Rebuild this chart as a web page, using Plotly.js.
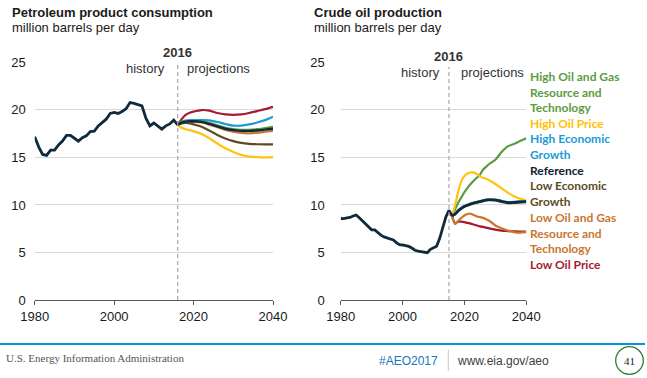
<!DOCTYPE html>
<html>
<head>
<meta charset="utf-8">
<script src="https://cdn.plot.ly/plotly-3.0.1.min.js"></script>
<style>
html,body{margin:0;padding:0;background:#fff;}
#chart{width:647px;height:378px;}
</style>
</head>
<body>
<div id="chart"></div>
<script>
// ---------- DATA ----------
const histYears = [];
for (let y = 1980; y <= 2016; y++) histYears.push(y);

// Petroleum product consumption (million barrels per day), history 1980-2016
const consHistory = [17.15, 16.1, 15.3, 15.2, 15.75, 15.75, 16.3, 16.7, 17.3, 17.3,
  17.0, 16.7, 17.05, 17.25, 17.7, 17.75, 18.3, 18.65, 19.0, 19.6,
  19.7, 19.6, 19.8, 20.1, 20.75, 20.65, 20.5, 20.4, 19.1, 18.3,
  18.6, 18.3, 17.95, 18.3, 18.5, 18.9, 18.4];

const consProjYears = [2016, 2017, 2018, 2019, 2020, 2022, 2024, 2026, 2028, 2030, 2032, 2034, 2036, 2038, 2040];
const consLowOilPrice   = [18.4, 19.0, 19.45, 19.68, 19.8, 19.96, 19.9, 19.65, 19.5, 19.45, 19.5, 19.65, 19.85, 20.05, 20.3];
const consHighEcon      = [18.4, 18.75, 18.85, 18.9, 18.9, 18.9, 18.88, 18.7, 18.5, 18.33, 18.33, 18.45, 18.65, 18.9, 19.25];
const consHighOilGas    = [18.4, 18.7, 18.78, 18.8, 18.8, 18.78, 18.6, 18.35, 18.1, 17.95, 17.88, 17.88, 17.95, 18.07, 18.2];
const consLowOilGas     = [18.4, 18.6, 18.7, 18.72, 18.72, 18.65, 18.42, 18.15, 17.88, 17.68, 17.55, 17.52, 17.58, 17.68, 17.78];
const consReference     = [18.4, 18.65, 18.75, 18.78, 18.78, 18.72, 18.5, 18.25, 18.0, 17.85, 17.77, 17.77, 17.82, 17.9, 18.0];
const consLowEcon       = [18.4, 18.55, 18.6, 18.55, 18.45, 18.2, 17.8, 17.35, 16.98, 16.7, 16.52, 16.42, 16.37, 16.35, 16.35];
const consHighOilPrice  = [18.4, 18.1, 17.95, 17.85, 17.75, 17.45, 17.0, 16.45, 15.95, 15.56, 15.25, 15.08, 15.02, 15.0, 15.02];

// Crude oil production (million barrels per day), history 1980-2016
const prodHistory = [8.58, 8.57, 8.65, 8.69, 8.85, 8.95, 8.65, 8.32, 8.1, 7.7,
  7.4, 7.38, 7.1, 6.83, 6.65, 6.55, 6.45, 6.33, 6.05, 5.83,
  5.8, 5.75, 5.65, 5.48, 5.25, 5.15, 5.08, 5.05, 5.0, 5.35,
  5.48, 5.68, 6.5, 7.5, 8.75, 9.43, 8.85];

const prodProjYears = [2016, 2017, 2018, 2019, 2020, 2021, 2022, 2023, 2024, 2025, 2026, 2027, 2028, 2030, 2032, 2034, 2036, 2038, 2040];
const prodHighOilGas   = [8.85, 9.55, 10.25, 10.8, 11.35, 11.8, 12.2, 12.55, 12.85, 13.15, 13.7, 14.0, 14.3, 14.75, 15.55, 16.15, 16.4, 16.7, 17.0];
const prodHighOilPrice = [8.85, 10.0, 11.4, 12.5, 13.05, 13.3, 13.42, 13.4, 13.25, 13.0, 12.85, 12.75, 12.6, 12.2, 11.75, 11.3, 10.92, 10.65, 10.5];
const prodHighEcon     = [8.85, 9.08, 9.43, 9.68, 9.88, 10.02, 10.14, 10.24, 10.32, 10.4, 10.48, 10.55, 10.58, 10.55, 10.42, 10.3, 10.32, 10.38, 10.4];
const prodReference    = [8.85, 9.05, 9.4, 9.65, 9.85, 9.98, 10.1, 10.2, 10.28, 10.36, 10.45, 10.52, 10.55, 10.52, 10.38, 10.25, 10.27, 10.33, 10.36];
const prodLowEcon      = [8.85, 9.02, 9.37, 9.62, 9.82, 9.95, 10.07, 10.17, 10.25, 10.33, 10.42, 10.49, 10.52, 10.48, 10.34, 10.21, 10.23, 10.29, 10.32];
const prodLowOilGas    = [8.85, 8.0, 8.35, 8.65, 8.9, 9.05, 9.08, 8.95, 8.8, 8.72, 8.65, 8.5, 8.35, 7.85, 7.55, 7.32, 7.16, 7.1, 7.15];
const prodLowOilPrice  = [8.85, 8.1, 8.25, 8.25, 8.2, 8.12, 8.05, 7.95, 7.85, 7.75, 7.7, 7.63, 7.55, 7.42, 7.3, 7.26, 7.23, 7.2, 7.2];

const yTicks = [0, 5, 10, 15, 20, 25];
const xTicks = [1980, 2000, 2020, 2040];
const dividerLeft = 2016;
const dividerRight = 2015;
const dividerLabel = '2016';

const scenarioLabels = [
  {text: 'High Oil and Gas<br>Resource and<br>Technology', color: '#5b9b3f'},
  {text: 'High Oil Price', color: '#ffc000'},
  {text: 'High Economic<br>Growth', color: '#1b9ad6'},
  {text: 'Reference', color: '#0e2233'},
  {text: 'Low Economic<br>Growth', color: '#5e4b1e'},
  {text: 'Low Oil and Gas<br>Resource and<br>Technology', color: '#c9762f'},
  {text: 'Low Oil Price', color: '#a6192e'}
];

// ---------- STYLE ----------
const W = 647, H = 378;
const px = x => x / W;
const py = y => 1 - y / H;
const C = {
  navy: '#102a3b', green: '#5b9b3f', yellow: '#ffc20e', blue: '#1b9ad6',
  olive: '#5e4b1e', orange: '#c9762f', red: '#a6192e'
};
const AR = 'Arial, "Liberation Sans", sans-serif';

function line(x, y, color, width, xa, ya, smooth) {
  return {x: x, y: y, type: 'scatter', mode: 'lines', xaxis: xa, yaxis: ya,
    line: {color: color, width: width, shape: smooth ? 'spline' : 'linear', smoothing: 0.8},
    hoverinfo: 'skip', showlegend: false};
}

const traces = [
  line(consProjYears, consLowOilPrice, C.red, 2.2, 'x', 'y', true),
  line(consProjYears, consHighEcon, C.blue, 2.2, 'x', 'y', true),
  line(consProjYears, consHighOilGas, C.green, 2.2, 'x', 'y', true),
  line(consProjYears, consLowOilGas, C.orange, 2.2, 'x', 'y', true),
  line(consProjYears, consLowEcon, C.olive, 2.2, 'x', 'y', true),
  line(consProjYears, consHighOilPrice, C.yellow, 2.2, 'x', 'y', true),
  line(consProjYears, consReference, C.navy, 2.4, 'x', 'y', true),
  line(histYears, consHistory, C.navy, 2.8, 'x', 'y', false),

  line(prodProjYears, prodLowOilPrice, C.red, 2.2, 'x2', 'y2', true),
  line(prodProjYears, prodLowOilGas, C.orange, 2.2, 'x2', 'y2', true),
  line(prodProjYears, prodHighOilGas, C.green, 2.2, 'x2', 'y2', true),
  line(prodProjYears, prodHighOilPrice, C.yellow, 2.2, 'x2', 'y2', true),
  line(prodProjYears, prodLowEcon, C.olive, 2.4, 'x2', 'y2', true),
  line(prodProjYears, prodHighEcon, C.blue, 2.4, 'x2', 'y2', true),
  line(prodProjYears, prodReference, C.navy, 2.6, 'x2', 'y2', true),
  line(histYears, prodHistory, C.navy, 2.8, 'x2', 'y2', false)
];

function xAxis(domain, anchor) {
  return {domain: domain, anchor: anchor, range: [1980, 2040], tickvals: xTicks,
    showgrid: false, zeroline: false, showline: true, linecolor: '#595959', linewidth: 1,
    ticks: 'outside', ticklen: 4, tickcolor: '#595959', tickwidth: 1,
    tickfont: {family: AR, size: 13, color: '#1a1a1a'}, fixedrange: true};
}
function yAxis(domain, anchor, standoff) {
  return {domain: domain, anchor: anchor, range: [0, 25.02], tickvals: yTicks,
    showgrid: true, gridcolor: '#d9d9d9', gridwidth: 1, zeroline: false, showline: false,
    ticks: '', ticklabelstandoff: standoff,
    tickfont: {family: AR, size: 13, color: '#1a1a1a'}, fixedrange: true};
}

const yDom = [py(300.3), py(61.8)];

const annotations = [
  {text: '<b>Petroleum product consumption</b>', x: px(10), y: py(12.5), xanchor: 'left', yanchor: 'middle', font: {family: AR, size: 13, color: '#1a1a1a'}},
  {text: 'million barrels per day', x: px(10), y: py(27.5), xanchor: 'left', yanchor: 'middle', font: {family: AR, size: 13, color: '#1a1a1a'}},
  {text: '<b>Crude oil production</b>', x: px(312), y: py(12.5), xanchor: 'left', yanchor: 'middle', font: {family: AR, size: 13, color: '#1a1a1a'}},
  {text: 'million barrels per day', x: px(312), y: py(27.5), xanchor: 'left', yanchor: 'middle', font: {family: AR, size: 13, color: '#1a1a1a'}},

  {text: '<b>' + dividerLabel + '</b>', xref: 'x', x: dividerLeft, y: py(52), xanchor: 'center', yanchor: 'middle', font: {family: AR, size: 13, color: '#333'}},
  {text: 'history', xref: 'x', x: dividerLeft, xshift: -11, y: py(68), xanchor: 'right', yanchor: 'middle', font: {family: AR, size: 13, color: '#333'}},
  {text: 'projections', xref: 'x', x: dividerLeft, xshift: 7, y: py(68), xanchor: 'left', yanchor: 'middle', font: {family: AR, size: 13, color: '#333'}},

  {text: '<b>' + dividerLabel + '</b>', xref: 'x2', x: dividerRight, y: py(56), xanchor: 'center', yanchor: 'middle', font: {family: AR, size: 13, color: '#333'}},
  {text: 'history', xref: 'x2', x: dividerRight, xshift: -7, y: py(72), xanchor: 'right', yanchor: 'middle', font: {family: AR, size: 13, color: '#333'}},
  {text: 'projections', xref: 'x2', x: dividerRight, xshift: 10, y: py(72), xanchor: 'left', yanchor: 'middle', font: {family: AR, size: 13, color: '#333'}},

  {text: 'U.S. Energy Information Administration', x: px(4), y: py(358), xanchor: 'left', yanchor: 'middle', font: {family: '"Liberation Serif", "Times New Roman", serif', size: 11, color: '#555'}},
  {text: '#AEO2017', x: px(377), y: py(361), xanchor: 'left', yanchor: 'middle', font: {family: AR, size: 12, color: '#1b75bc'}},
  {text: 'www.eia.gov/aeo', x: px(455), y: py(361), xanchor: 'left', yanchor: 'middle', font: {family: AR, size: 12, color: '#404040'}},
  {text: '41', x: px(629.5), y: py(360.5), xanchor: 'center', yanchor: 'middle', font: {family: '"Liberation Serif", "Times New Roman", serif', size: 11, color: '#1a1a1a'}}
];

// scenario labels on the right
const labelCenters = [92.5, 123.5, 147, 170, 193.5, 233, 264];
scenarioLabels.forEach((s, i) => {
  annotations.push({text: '<b>' + s.text + '</b>', x: px(527.7), y: py(labelCenters[i]),
    xanchor: 'left', yanchor: 'middle', align: 'left',
    font: {family: 'Lato, "Open Sans", sans-serif', size: 12, color: s.color}});
});
annotations.forEach(a => { a.showarrow = false; if (!a.xref) a.xref = 'paper'; a.yref = 'paper'; });

const shapes = [
  {type: 'line', xref: 'x', yref: 'paper', x0: dividerLeft, x1: dividerLeft, y0: py(300), y1: py(65), line: {color: '#a6a6a6', width: 1.2, dash: '4px,3px'}},
  {type: 'line', xref: 'x2', yref: 'paper', x0: dividerRight, x1: dividerRight, y0: py(300), y1: py(67), line: {color: '#a6a6a6', width: 1.2, dash: '4px,3px'}},
  {type: 'line', xref: 'paper', yref: 'paper', x0: 0, x1: px(645), y0: py(344), y1: py(344), line: {color: '#0096d7', width: 2}},
  {type: 'line', xref: 'paper', yref: 'paper', x0: px(448.3), x1: px(448.3), y0: py(350), y1: py(371), line: {color: '#c8c8c8', width: 1}},
  {type: 'circle', xref: 'paper', yref: 'paper', x0: px(615.7), x1: px(643.3), y0: py(374.3), y1: py(346.7), line: {color: '#2e7d32', width: 1.3}}
];

const layout = {
  width: W, height: H, autosize: false,
  margin: {l: 0, r: 0, t: 0, b: 0, pad: 0},
  paper_bgcolor: '#fff', plot_bgcolor: 'rgba(0,0,0,0)',
  showlegend: false,
  xaxis: xAxis([px(34.7), px(273)], 'y'),
  yaxis: yAxis(yDom, 'x', 8),
  xaxis2: xAxis([px(340.7), px(526.3)], 'y2'),
  yaxis2: yAxis(yDom, 'x2', 15),
  annotations: annotations,
  shapes: shapes,
  font: {family: AR}
};

Plotly.newPlot('chart', traces, layout, {displayModeBar: false, staticPlot: true});
</script>
</body>
</html>
